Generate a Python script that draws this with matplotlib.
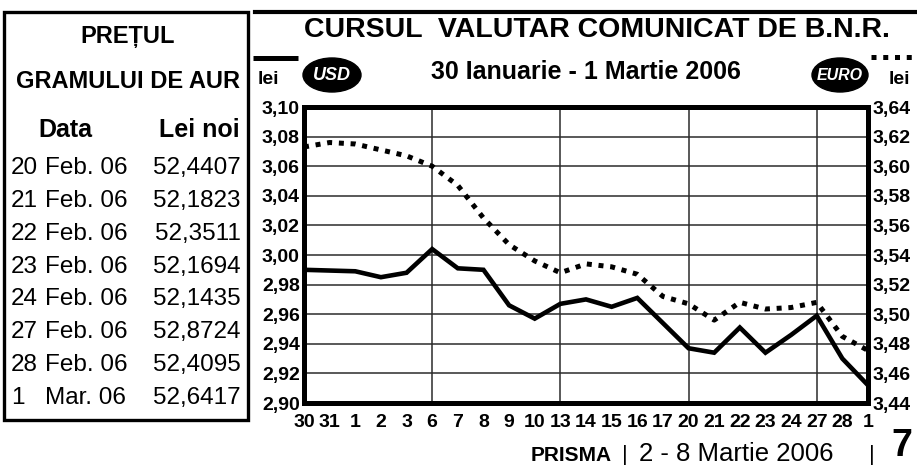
import numpy as np
import matplotlib
matplotlib.use("Agg")
import matplotlib.pyplot as plt
from matplotlib import font_manager
from matplotlib.patches import Ellipse, Rectangle
from matplotlib.lines import Line2D

# ── data ──────────────────────────────────────
dates = ["30", "31", "1", "2", "3", "6", "7", "8", "9", "10", "13", "14",
         "15", "16", "17", "20", "21", "22", "23", "24", "27", "28", "1"]
usd = [2.990, 2.9895, 2.989, 2.985, 2.988, 3.004, 2.991, 2.990, 2.966,
       2.957, 2.967, 2.970, 2.965, 2.971, 2.954, 2.937, 2.934, 2.951,
       2.934, 2.946, 2.959, 2.930, 2.912]
euro = [3.613, 3.616, 3.615, 3.611, 3.607, 3.600, 3.587, 3.565, 3.547,
        3.536, 3.528, 3.534, 3.532, 3.527, 3.512, 3.507, 3.496, 3.508,
        3.5035, 3.5045, 3.508, 3.485, 3.4755]
week_starts = ["6", "13", "20", "27"]

usd_ticks = [2.90, 2.92, 2.94, 2.96, 2.98, 3.00, 3.02, 3.04, 3.06, 3.08, 3.10]
euro_ticks = [3.44, 3.46, 3.48, 3.50, 3.52, 3.54, 3.56, 3.58, 3.60, 3.62, 3.64]

gold_days = ["20", "21", "22", "23", "24", "27", "28", "1"]
gold_months = ["Feb. 06"] * 7 + ["Mar. 06"]
gold_prices = [52.4407, 52.1823, 52.3511, 52.1694, 52.1435, 52.8724,
               52.4095, 52.6417]

# ── setup ─────────────────────────────────────
plt.rcParams["font.family"] = ["Liberation Sans", "DejaVu Sans"]


def have_font(name):
    try:
        font_manager.findfont(name, fallback_to_default=False)
        return True
    except ValueError:
        return False


# condensed face for the day labels / badges, if it is installed
if have_font("Liberation Sans Narrow"):
    NARROW, XSIZE = ["Liberation Sans Narrow", "Liberation Sans"], 16
else:
    NARROW, XSIZE = ["Liberation Sans", "DejaVu Sans"], 14

W, H = 917, 465


def fx(x):
    return x / W


def fy(y):
    return 1 - y / H


def comma(v):
    return f"{v:.2f}".replace(".", ",")


fig = plt.figure(figsize=(W / 100, H / 100), dpi=100)
fig.patch.set_facecolor("white")
DOTS = (0, (1.0, 1.35))

# ── chart ─────────────────────────────────────
ax = fig.add_axes([fx(304), fy(403), fx(868) - fx(304), fy(107) - fy(403)])
x = np.arange(len(dates))
ax.set_xlim(0, len(dates) - 1)
ax.set_ylim(usd_ticks[0], usd_ticks[-1])

for v in usd_ticks[1:-1]:
    ax.axhline(v, color="#2b2b2b", lw=1.1, zorder=1)
for d in week_starts:
    ax.axvline(dates.index(d), color="#2b2b2b", lw=1.1, zorder=1)

ax.plot(x, usd, color="black", lw=3.3, solid_joinstyle="miter", zorder=3)

ax.set_yticks(usd_ticks, labels=[comma(v) for v in usd_ticks],
              fontsize=14, fontweight="bold")
ax.set_xticks(x, labels=dates, fontsize=XSIZE, fontweight="bold",
              family=NARROW)
ax.tick_params(axis="y", length=0, pad=3)
ax.tick_params(axis="x", length=0, pad=8)

ax2 = ax.twinx()
ax2.set_ylim(euro_ticks[0], euro_ticks[-1])
ax2.plot(x, euro, color="black", lw=3.6, linestyle=DOTS,
         dash_capstyle="butt", zorder=3)
ax2.set_yticks(euro_ticks, labels=[comma(v) for v in euro_ticks],
               fontsize=14, fontweight="bold")
ax2.tick_params(axis="y", length=0, pad=3)

for a in (ax, ax2):
    for s in a.spines.values():
        s.set_linewidth(3.6)
        s.set_color("black")

# ── header of chart ───────────────────────────
fig.add_artist(Line2D([fx(255), fx(917)], [fy(12), fy(12)], lw=3,
                      color="black", transform=fig.transFigure))
fig.text(fx(597), fy(30), "CURSUL  VALUTAR COMUNICAT DE B.N.R.",
         ha="center", va="center", fontsize=20.5, fontweight="bold")
fig.text(fx(586), fy(72), "30 Ianuarie - 1 Martie 2006",
         ha="center", va="center", fontsize=18, fontweight="bold")

# legend: USD solid, EURO dotted
fig.add_artist(Line2D([fx(253), fx(298)], [fy(58), fy(58)], lw=3.6,
                      color="black", solid_capstyle="butt",
                      transform=fig.transFigure))
fig.add_artist(Line2D([fx(871), fx(917)], [fy(57), fy(57)], lw=3.6,
                      color="black", linestyle=DOTS,
                      dash_capstyle="butt", transform=fig.transFigure))
fig.text(fx(268), fy(79), "lei", ha="center", va="center",
         fontsize=14, fontweight="bold")
fig.text(fx(899), fy(79), "lei", ha="center", va="center",
         fontsize=14, fontweight="bold")
fig.add_artist(Ellipse((fx(332), fy(75)), fx(58), 34 / H,
                       color="black", transform=fig.transFigure))
fig.text(fx(332), fy(75), "USD", ha="center", va="center", color="white",
         fontsize=13, fontweight="bold", style="italic", family=NARROW)
fig.add_artist(Ellipse((fx(840), fy(75)), fx(56), 34 / H,
                       color="black", transform=fig.transFigure))
fig.text(fx(840), fy(75), "EURO", ha="center", va="center", color="white",
         fontsize=11.5, fontweight="bold", style="italic", family=NARROW)

# ── gold price table ──────────────────────────
fig.add_artist(Rectangle((fx(4), fy(420)), fx(248) - fx(4), fy(12) - fy(420),
                         fill=False, lw=2.4, ec="black",
                         transform=fig.transFigure))
fig.text(fx(128), fy(37), "PREȚUL", ha="center", va="center",
         fontsize=17, fontweight="bold")
fig.text(fx(128), fy(82), "GRAMULUI DE AUR", ha="center", va="center",
         fontsize=17, fontweight="bold")
fig.text(fx(65), fy(130), "Data", ha="center", va="center",
         fontsize=18, fontweight="bold")
fig.text(fx(240), fy(130), "Lei noi", ha="right", va="center",
         fontsize=18, fontweight="bold")

row_y = np.linspace(168, 398, len(gold_days))
for day, month, price, ry in zip(gold_days, gold_months, gold_prices, row_y):
    fig.text(fx(11), fy(ry), day, ha="left", va="center", fontsize=17.5)
    fig.text(fx(45), fy(ry), month, ha="left", va="center", fontsize=17.5)
    fig.text(fx(241), fy(ry), f"{price:.4f}".replace(".", ","),
             ha="right", va="center", fontsize=17.5)

# ── footer ────────────────────────────────────
fig.text(fx(612), fy(461), "PRISMA", ha="right", va="baseline",
         fontsize=15, fontweight="bold")
fig.text(fx(625), fy(461), "|", ha="center", va="baseline", fontsize=16)
fig.text(fx(639), fy(461), "2 - 8 Martie 2006", ha="left", va="baseline",
         fontsize=18.5)
fig.text(fx(872), fy(461), "|", ha="center", va="baseline", fontsize=16)
fig.text(fx(902), fy(464), "7", ha="center", va="bottom",
         fontsize=27, fontweight="bold")

fig.savefig("out.png", dpi=100)
